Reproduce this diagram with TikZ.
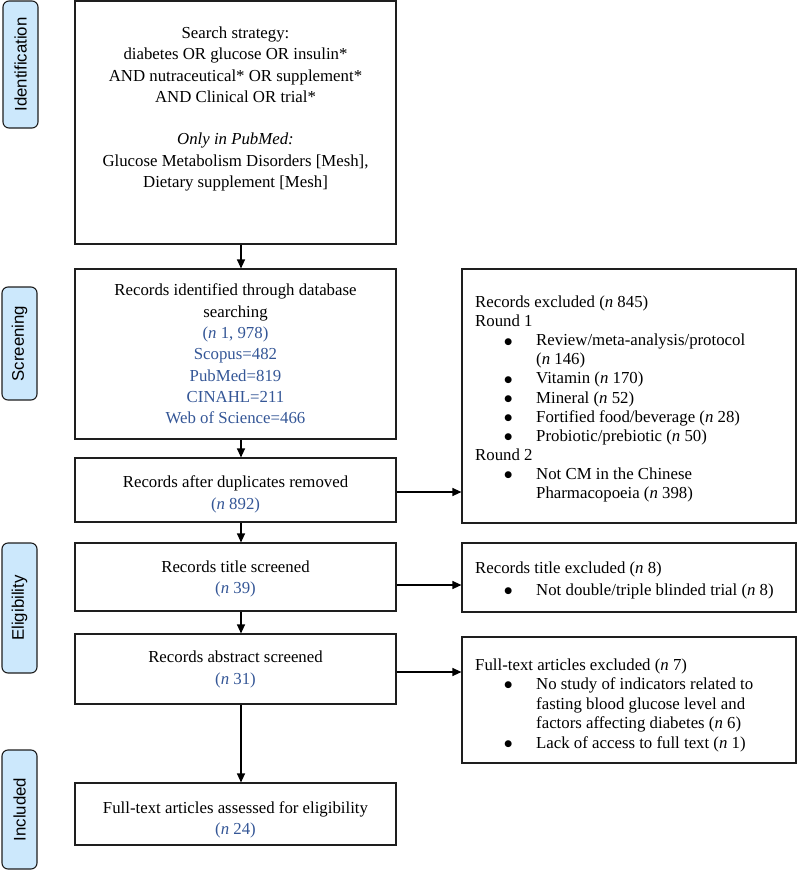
\documentclass[tikz,border=0pt]{standalone}
\usepackage{fontspec}
\setmainfont{Liberation Serif}
\newfontfamily\sidefont{Liberation Sans}
\newfontfamily\symfont{DejaVu Sans}
\usetikzlibrary{arrows.meta}
\definecolor{nblue}{RGB}{52,86,150}
\definecolor{sidefill}{RGB}{204,232,252}
\definecolor{edge}{RGB}{30,30,30}
\newcommand{\bul}{\hspace*{28pt}\makebox[10pt][c]{\raisebox{1.6pt}{\symfont\fontsize{9}{9}\selectfont ●}}\hspace*{23pt}}
\newcommand{\cont}{\hspace*{61pt}}
\begin{document}
\begin{tikzpicture}[x=1pt,y=-1pt,
  lbox/.style={draw=edge,line width=1.15pt,rectangle,inner sep=0pt,minimum width=321pt},
  rbox/.style={draw=edge,line width=1.15pt,rectangle,inner sep=0pt,minimum width=334pt},
  side/.style={draw=edge,line width=1.1pt,fill=sidefill,rounded corners=6pt,inner sep=0pt,
    rotate=90,minimum height=35pt,font=\sidefont\fontsize{16.8}{18}\selectfont},
  ctext/.style={inner sep=0pt,align=center,font=\fontsize{16.8}{21.3}\selectfont},
  rtext/.style={anchor=west,inner sep=0pt,align=left,font=\fontsize{16.8}{19.1}\selectfont},
  arr/.style={draw=black,line width=1.15pt,-{Triangle[length=9pt,width=8pt]}}]

\useasboundingbox (0,0) rectangle (797,871);

% side labels
\node[side,minimum width=127pt] (sid) at (20.5,64.5) {Identification};
\node[side,minimum width=113pt] (sscr) at (19.5,343.5) {Screening};
\node[side,minimum width=130pt] (selig) at (19.5,608) {Eligibility};
\node[side,minimum width=119pt] (sinc) at (19.5,809.5) {Included};

% left column
\node[lbox,minimum height=243pt] (search) at (235.5,122.5) {};
\node[ctext] (searchtxt) at (235.5,109) {Search strategy:\\diabetes OR glucose OR insulin*\\AND nutraceutical* OR supplement*\\AND Clinical OR trial*\\[21.3pt]\textit{Only in PubMed:}\\Glucose Metabolism Disorders [Mesh],\\Dietary supplement [Mesh]};

\node[lbox,minimum height=170pt] (ident) at (235.5,354) {};
\node[ctext] (identtxt) at (235.5,354) {Records identified through database\\searching\\
  \textcolor{nblue}{(\textit{n} 1, 978)}\\\textcolor{nblue}{Scopus=482}\\\textcolor{nblue}{PubMed=819}\\
  \textcolor{nblue}{CINAHL=211}\\\textcolor{nblue}{Web of Science=466}};
\node[lbox,minimum height=64pt] (dup) at (235.5,490) {};
\node[ctext] (duptxt) at (235.5,494.5) {Records after duplicates removed\\\textcolor{nblue}{(\textit{n} 892)}};
\node[lbox,minimum height=68pt] (title) at (235.5,577) {};
\node[ctext] (titletxt) at (235.5,579) {Records title screened\\\textcolor{nblue}{(\textit{n} 39)}};
\node[lbox,minimum height=70pt] (abs) at (235.5,669) {};
\node[ctext] (abstxt) at (235.5,669.5) {Records abstract screened\\\textcolor{nblue}{(\textit{n} 31)}};
\node[lbox,minimum height=62pt] (full) at (235.5,814) {};
\node[ctext] (fulltxt) at (235.5,820) {Full-text articles assessed for eligibility\\\textcolor{nblue}{(\textit{n} 24)}};

% right column
\node[rbox,minimum height=254pt] (r1) at (629,396) {};
\node[rtext] (r1t) at (475,399) {Records excluded (\textit{n} 845)\\
Round 1\\
\bul Review/meta-analysis/protocol\\
\cont(\textit{n} 146)\\
\bul Vitamin (\textit{n} 170)\\
\bul Mineral (\textit{n} 52)\\
\bul Fortified food/beverage (\textit{n} 28)\\
\bul Probiotic/prebiotic (\textit{n} 50)\\
Round 2\\
\bul Not CM in the Chinese\\
\cont Pharmacopoeia (\textit{n} 398)};

\node[rbox,minimum height=69pt] (r2) at (629,577.5) {};
\node[rtext,font=\fontsize{16.8}{22}\selectfont] (r2t) at (475,580) {Records title excluded (\textit{n} 8)\\
\bul Not double/triple blinded trial (\textit{n} 8)};

\node[rbox,minimum height=126pt] (r3) at (629,700) {};
\node[rtext,font=\fontsize{16.8}{19.5}\selectfont] (r3t) at (475,705) {Full-text articles excluded (\textit{n} 7)\\
\bul No study of indicators related to\\
\cont fasting blood glucose level and\\
\cont factors affecting diabetes (\textit{n} 6)\\
\bul Lack of access to full text (\textit{n} 1)};

% connectors
\coordinate (ax) at (241,0);
\coordinate (y1) at (0,492);
\coordinate (y2) at (0,585);
\coordinate (y3) at (0,672);
\draw[arr] (search.south -| ax) -- (ident.north -| ax);
\draw[arr] (ident.south -| ax) -- (dup.north -| ax);
\draw[arr] (dup.south -| ax) -- (title.north -| ax);
\draw[arr] (title.south -| ax) -- (abs.north -| ax);
\draw[arr] (abs.south -| ax) -- (full.north -| ax);
\draw[arr] (dup.east |- y1) -- (r1.west |- y1);
\draw[arr] (title.east |- y2) -- (r2.west |- y2);
\draw[arr] (abs.east |- y3) -- (r3.west |- y3);
\end{tikzpicture}
\end{document}
